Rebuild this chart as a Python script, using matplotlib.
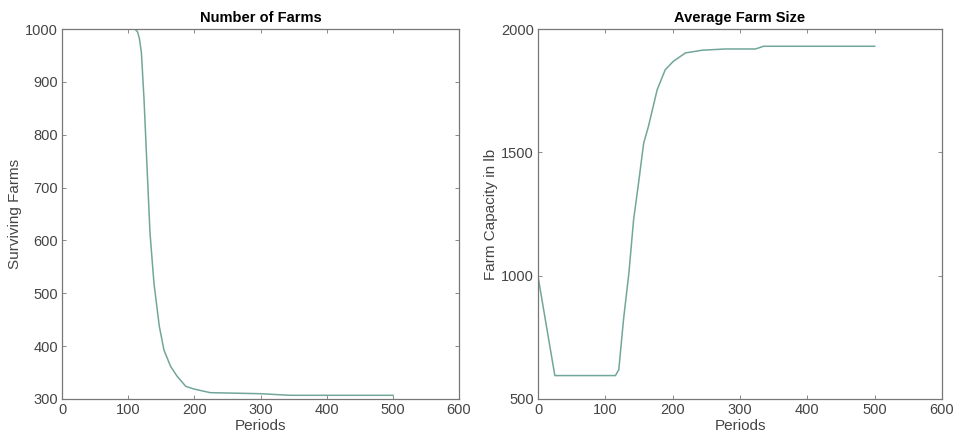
import matplotlib.pyplot as plt
import numpy as np

# Farm simulation results over time
periods_farms = [0, 60, 110, 114, 117, 120, 124, 128, 133, 139, 147, 154, 164, 174, 187, 199, 224, 300, 345, 500]
surviving_farms = [1000, 1000, 1000, 995, 982, 955, 866, 753, 614, 519, 438, 393, 362, 343, 324, 319, 312, 310, 307, 307]

periods_size = [0, 25, 115, 120, 127, 135, 142, 149, 157, 164, 177, 189, 201, 219, 244, 278, 323, 335, 500]
avg_farm_size = [997, 595, 595, 619, 822, 1011, 1227, 1369, 1538, 1605, 1754, 1835, 1869, 1903, 1914, 1919, 1919, 1930, 1930]

plt.rcParams['font.family'] = ['Liberation Sans', 'DejaVu Sans']
line_color = '#72a69b'

fig = plt.figure(figsize=(9.55, 4.46), dpi=100)
ax1 = fig.add_axes([62 / 955, 1 - 399 / 446, 397 / 955, 370 / 446])
ax2 = fig.add_axes([538 / 955, 1 - 399 / 446, 404 / 955, 370 / 446])

ax1.plot(periods_farms, surviving_farms, color=line_color, lw=1.1)
ax1.set_xlim(0, 600)
ax1.set_ylim(300, 1000)
ax1.set_xticks(np.arange(0, 601, 100))
ax1.set_yticks(np.arange(300, 1001, 100))
ax1.set_title('Number of Farms', fontsize=10.5, fontweight='bold', pad=5)
ax1.set_xlabel('Periods', fontsize=11, color='#444444', labelpad=1)
ax1.set_ylabel('Surviving Farms', fontsize=11, color='#444444', labelpad=2)

ax2.plot(periods_size, avg_farm_size, color=line_color, lw=1.1)
ax2.set_xlim(0, 600)
ax2.set_ylim(500, 2000)
ax2.set_xticks(np.arange(0, 601, 100))
ax2.set_yticks([500, 1000, 1500, 2000])
ax2.set_title('Average Farm Size', fontsize=10.5, fontweight='bold', pad=5)
ax2.set_xlabel('Periods', fontsize=11, color='#444444', labelpad=1)
ax2.set_ylabel('Farm Capacity in lb', fontsize=11, color='#444444', labelpad=2)

for ax in (ax1, ax2):
    ax.tick_params(direction='in', top=True, right=True, length=3, width=0.6,
                   labelsize=10.5, labelcolor='#444444', color='#777777', pad=3)
    for s in ax.spines.values():
        s.set_color('#777777')
        s.set_linewidth(0.9)

fig.savefig('out.png', dpi=100)
